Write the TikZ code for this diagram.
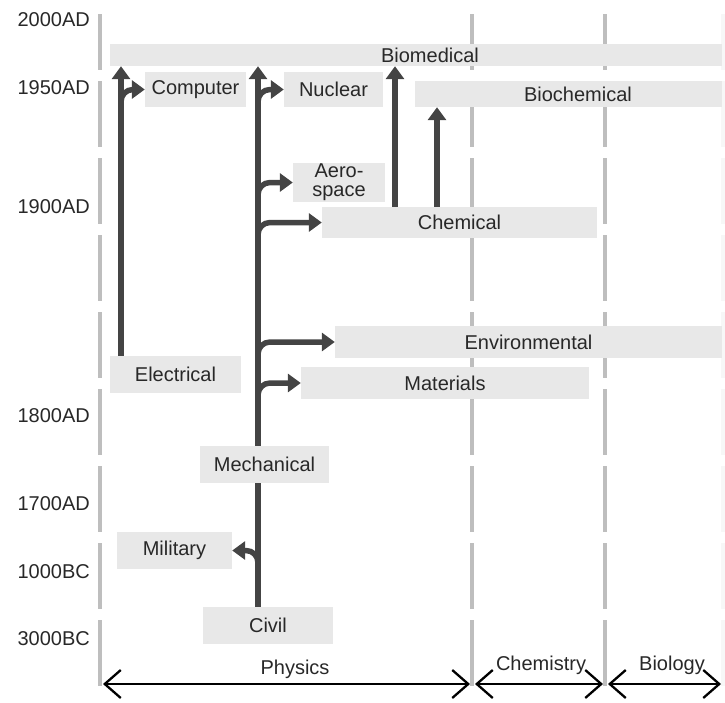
\documentclass[tikz,border=0pt]{standalone}
\usepackage{fontspec}
\setmainfont{Liberation Sans}
\usetikzlibrary{arrows.meta,calc}
\definecolor{boxgray}{RGB}{232,232,232}
\definecolor{linegray}{RGB}{190,190,190}
\definecolor{arrowgray}{RGB}{68,68,68}
\definecolor{textgray}{RGB}{40,40,40}
\begin{document}
\begin{tikzpicture}
	[x=1pt,y=-1pt,
	 font=\fontsize{20}{19}\selectfont,text=textgray,
	 field/.style={fill=boxgray,inner sep=0pt},
	 divider/.style={line width=4.5pt,dash pattern=on 66pt off 11pt,dash phase=10pt},
	 lineage/.style={arrowgray,line width=5.5pt,-{Triangle[length=13pt,width=18pt]}},
	 branch/.style={lineage,rounded corners=12pt},
	 span/.style={black,line width=2.3pt,shorten <=3pt,shorten >=2pt,
	   {Straight Barb[length=16pt,width=28pt]}-{Straight Barb[length=16pt,width=28pt]}}]
	\useasboundingbox (0,0) rectangle (725,702);
	% field dividers
	\foreach \x [count=\i] in {100,472,605,723}
	  \coordinate (d\i) at (\x,684);
	\foreach \x in {100,472,605}
	  \draw[divider,linegray] (\x,14) -- (\x,690);
	\draw[divider,linegray!12] (723,14) -- (723,690);
	% time axis
	\foreach \y/\t in {20/2000AD,88/1950AD,207/1900AD,416/1800AD,504/1700AD,572/1000BC,639/3000BC}
	  \node[anchor=east,inner sep=0pt] (y\t) at (90,\y) {\t};
	% disciplines
	\node (Biomedical) [field,minimum width=612pt,minimum height=22pt] at (416,55) {\hspace*{28pt}Biomedical};
	\node (Computer) [field,minimum width=101pt,minimum height=35pt] at (195.5,89.5) {Computer};
	\node (Nuclear) [field,minimum width=99pt,minimum height=35pt] at (333.5,89.5) {Nuclear};
	\node (Biochemical) [field,minimum width=307pt,minimum height=26pt] at (568.5,94) {\hspace*{19pt}Biochemical};
	\node (Aerospace) [field,minimum width=92pt,minimum height=39pt,align=center] at (339,182.5) {Aero-\\space};
	\node (Chemical) [field,minimum width=275pt,minimum height=31pt] at (459.5,222.5) {Chemical};
	\node (Environmental) [field,minimum width=387pt,minimum height=32pt] at (528.5,342) {Environmental};
	\node (Electrical) [field,minimum width=131pt,minimum height=37pt] at (175.5,374.5) {Electrical};
	\node (Materials) [field,minimum width=288pt,minimum height=32pt] at (445,383) {Materials};
	\node (Mechanical) [field,minimum width=129pt,minimum height=37pt] at (264.5,464.5) {Mechanical};
	\node (Military) [field,minimum width=115pt,minimum height=37pt] at (174.5,550.5) {Military};
	\node (Civil) [field,minimum width=130pt,minimum height=37pt] at (268,625.5) {Civil};
	% trunks
	\coordinate (leftx) at (121,0);
	\coordinate (mainx) at (258,0);
	\coordinate (bmedx) at (395,0);
	\coordinate (bchemx) at (437,0);
	\draw[lineage] (Electrical.north -| leftx) -- (Biomedical.south -| leftx);
	\draw[branch] ($(Computer.west -| leftx)+(0,18)$) |- (Computer.west);
	\draw[arrowgray,line width=5.5pt] (Civil.north -| mainx) -- (Mechanical.south -| mainx);
	\draw[lineage] (Mechanical.north -| mainx) -- (Biomedical.south -| mainx);
	\draw[branch] ($(Military.east -| mainx)+(0,18)$) |- (Military.east);
	\draw[branch] ($(Materials.west -| mainx)+(0,20)$) |- (Materials.west);
	\draw[branch] ($(Environmental.west -| mainx)+(0,20)$) |- (Environmental.west);
	\draw[branch] ($(Chemical.west -| mainx)+(0,20)$) |- (Chemical.west);
	\draw[branch] ($(Aerospace.west -| mainx)+(0,20)$) |- (Aerospace.west);
	\draw[branch] ($(Nuclear.west -| mainx)+(0,20)$) |- (Nuclear.west);
	\draw[lineage] (Chemical.north -| bmedx) -- (Biomedical.south -| bmedx);
	\draw[lineage] (Chemical.north -| bchemx) -- (Biochemical.south -| bchemx);
	% sciences
	\draw[span] (d1) -- (d2);
	\draw[span] (d2) -- (d3);
	\draw[span] (d3) -- (d4);
	\node (Physics) at (295,669) {Physics};
	\node (Chemistry) at (541,665) {Chemistry};
	\node (Biology) at (672,665) {Biology};
\end{tikzpicture}
\end{document}
